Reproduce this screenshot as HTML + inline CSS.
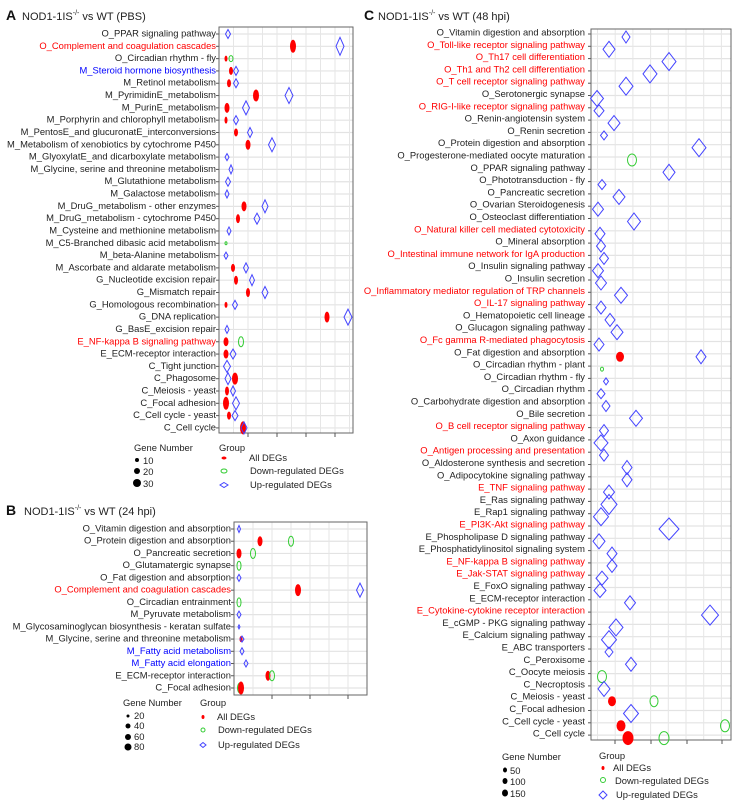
<!DOCTYPE html>
<html><head><meta charset="utf-8"><style>
html,body{margin:0;padding:0;background:#fff;}
svg{display:block;font-family:"Liberation Sans",Arial,sans-serif;}
.l{font-size:9.4px;fill:#222;text-anchor:end;}
.r{fill:#f00;} .b{fill:#00f;}
.t{font-size:11px;fill:#222;}
.g{font-size:9.4px;fill:#222;}
</style></head><body>
<svg id="s" width="738" height="809" viewBox="0 0 738 809" xmlns="http://www.w3.org/2000/svg">
<rect width="738" height="809" fill="#fff"/>
<g id="grid"></g>
<text x="6" y="20" font-size="14" font-weight="bold" fill="#111">A</text>
<text x="22" y="20" class="t">NOD1-1IS<tspan font-size="7" dy="-5">-/-</tspan><tspan dy="5"> vs WT (PBS)</tspan></text>
<text x="6" y="515" font-size="14" font-weight="bold" fill="#111">B</text>
<text x="24" y="515" class="t">NOD1-1IS<tspan font-size="7" dy="-5">-/-</tspan><tspan dy="5"> vs WT (24 hpi)</tspan></text>
<text x="364" y="20" font-size="14" font-weight="bold" fill="#111">C</text>
<text x="378" y="20" class="t">NOD1-1IS<tspan font-size="7" dy="-5">-/-</tspan><tspan dy="5"> vs WT (48 hpi)</tspan></text>

<g transform="translate(216,0)">
<text class="l" y="36.5">O_PPAR signaling pathway</text>
<text class="l r" y="48.8">O_Complement and coagulation cascades</text>
<text class="l" y="61.1">O_Circadian rhythm - fly</text>
<text class="l b" y="73.4">M_Steroid hormone biosynthesis</text>
<text class="l" y="85.7">M_Retinol metabolism</text>
<text class="l" y="98">M_PyrimidinE_metabolism</text>
<text class="l" y="110.4">M_PurinE_metabolism</text>
<text class="l" y="122.7">M_Porphyrin and chlorophyll metabolism</text>
<text class="l" y="135">M_PentosE_and glucuronatE_interconversions</text>
<text class="l" y="147.3">M_Metabolism of xenobiotics by cytochrome P450</text>
<text class="l" y="159.6">M_GlyoxylatE_and dicarboxylate metabolism</text>
<text class="l" y="171.9">M_Glycine, serine and threonine metabolism</text>
<text class="l" y="184.2">M_Glutathione metabolism</text>
<text class="l" y="196.5">M_Galactose metabolism</text>
<text class="l" y="208.8">M_DruG_metabolism - other enzymes</text>
<text class="l" y="221.1">M_DruG_metabolism - cytochrome P450</text>
<text class="l" y="233.5">M_Cysteine and methionine metabolism</text>
<text class="l" y="245.8">M_C5-Branched dibasic acid metabolism</text>
<text class="l" y="258.1">M_beta-Alanine metabolism</text>
<text class="l" y="270.4">M_Ascorbate and aldarate metabolism</text>
<text class="l" y="282.7">G_Nucleotide excision repair</text>
<text class="l" y="295">G_Mismatch repair</text>
<text class="l" y="307.3">G_Homologous recombination</text>
<text class="l" y="319.6">G_DNA replication</text>
<text class="l" y="331.9">G_BasE_excision repair</text>
<text class="l r" y="344.3">E_NF-kappa B signaling pathway</text>
<text class="l" y="356.6">E_ECM-receptor interaction</text>
<text class="l" y="368.9">C_Tight junction</text>
<text class="l" y="381.2">C_Phagosome</text>
<text class="l" y="393.5">C_Meiosis - yeast</text>
<text class="l" y="405.8">C_Focal adhesion</text>
<text class="l" y="418.1">C_Cell cycle - yeast</text>
<text class="l" y="430.4">C_Cell cycle</text>
</g>

<g transform="translate(231,0)">
<text class="l" y="531.5">O_Vitamin digestion and absorption</text>
<text class="l" y="543.7">O_Protein digestion and absorption</text>
<text class="l" y="556">O_Pancreatic secretion</text>
<text class="l" y="568.2">O_Glutamatergic synapse</text>
<text class="l" y="580.4">O_Fat digestion and absorption</text>
<text class="l r" y="592.7">O_Complement and coagulation cascades</text>
<text class="l" y="604.9">O_Circadian entrainment</text>
<text class="l" y="617.1">M_Pyruvate metabolism</text>
<text class="l" y="629.3">M_Glycosaminoglycan biosynthesis - keratan sulfate</text>
<text class="l" y="641.6">M_Glycine, serine and threonine metabolism</text>
<text class="l b" y="653.8">M_Fatty acid metabolism</text>
<text class="l b" y="666">M_Fatty acid elongation</text>
<text class="l" y="678.3">E_ECM-receptor interaction</text>
<text class="l" y="690.5">C_Focal adhesion</text>
</g>

<g transform="translate(585,0)">
<text class="l" y="35.5">O_Vitamin digestion and absorption</text>
<text class="l r" y="47.8">O_Toll-like receptor signaling pathway</text>
<text class="l r" y="60.1">O_Th17 cell differentiation</text>
<text class="l r" y="72.4">O_Th1 and Th2 cell differentiation</text>
<text class="l r" y="84.7">O_T cell receptor signaling pathway</text>
<text class="l" y="97">O_Serotonergic synapse</text>
<text class="l r" y="109.3">O_RIG-I-like receptor signaling pathway</text>
<text class="l" y="121.6">O_Renin-angiotensin system</text>
<text class="l" y="133.9">O_Renin secretion</text>
<text class="l" y="146.2">O_Protein digestion and absorption</text>
<text class="l" y="158.5">O_Progesterone-mediated oocyte maturation</text>
<text class="l" y="170.8">O_PPAR signaling pathway</text>
<text class="l" y="183.1">O_Phototransduction - fly</text>
<text class="l" y="195.4">O_Pancreatic secretion</text>
<text class="l" y="207.7">O_Ovarian Steroidogenesis</text>
<text class="l" y="220">O_Osteoclast differentiation</text>
<text class="l r" y="232.3">O_Natural killer cell mediated cytotoxicity</text>
<text class="l" y="244.6">O_Mineral absorption</text>
<text class="l r" y="256.9">O_Intestinal immune network for IgA production</text>
<text class="l" y="269.2">O_Insulin signaling pathway</text>
<text class="l" y="281.5">O_Insulin secretion</text>
<text class="l r" y="293.8">O_Inflammatory mediator regulation of TRP channels</text>
<text class="l r" y="306.1">O_IL-17 signaling pathway</text>
<text class="l" y="318.4">O_Hematopoietic cell lineage</text>
<text class="l" y="330.7">O_Glucagon signaling pathway</text>
<text class="l r" y="343">O_Fc gamma R-mediated phagocytosis</text>
<text class="l" y="355.3">O_Fat digestion and absorption</text>
<text class="l" y="367.6">O_Circadian rhythm - plant</text>
<text class="l" y="379.9">O_Circadian rhythm - fly</text>
<text class="l" y="392.2">O_Circadian rhythm</text>
<text class="l" y="404.5">O_Carbohydrate digestion and absorption</text>
<text class="l" y="416.8">O_Bile secretion</text>
<text class="l r" y="429.1">O_B cell receptor signaling pathway</text>
<text class="l" y="441.4">O_Axon guidance</text>
<text class="l r" y="453.7">O_Antigen processing and presentation</text>
<text class="l" y="466">O_Aldosterone synthesis and secretion</text>
<text class="l" y="478.3">O_Adipocytokine signaling pathway</text>
<text class="l r" y="490.6">E_TNF signaling pathway</text>
<text class="l" y="502.9">E_Ras signaling pathway</text>
<text class="l" y="515.2">E_Rap1 signaling pathway</text>
<text class="l r" y="527.5">E_PI3K-Akt signaling pathway</text>
<text class="l" y="539.8">E_Phospholipase D signaling pathway</text>
<text class="l" y="552.1">E_Phosphatidylinositol signaling system</text>
<text class="l r" y="564.4">E_NF-kappa B signaling pathway</text>
<text class="l r" y="576.7">E_Jak-STAT signaling pathway</text>
<text class="l" y="589">E_FoxO signaling pathway</text>
<text class="l" y="601.3">E_ECM-receptor interaction</text>
<text class="l r" y="613.6">E_Cytokine-cytokine receptor interaction</text>
<text class="l" y="625.9">E_cGMP - PKG signaling pathway</text>
<text class="l" y="638.2">E_Calcium signaling pathway</text>
<text class="l" y="650.5">E_ABC transporters</text>
<text class="l" y="662.8">C_Peroxisome</text>
<text class="l" y="675.1">C_Oocyte meiosis</text>
<text class="l" y="687.4">C_Necroptosis</text>
<text class="l" y="699.7">C_Meiosis - yeast</text>
<text class="l" y="712">C_Focal adhesion</text>
<text class="l" y="724.3">C_Cell cycle - yeast</text>
<text class="l" y="736.6">C_Cell cycle</text>
</g>

<text class="g" x="134" y="451">Gene Number</text>
<text class="g" x="143" y="464">10</text>
<text class="g" x="143" y="475">20</text>
<text class="g" x="143" y="487">30</text>
<text class="g" x="219" y="451">Group</text>
<text class="g" x="249" y="461">All DEGs</text>
<text class="g" x="250" y="474">Down-regulated DEGs</text>
<text class="g" x="250" y="488">Up-regulated DEGs</text>

<text class="g" x="123" y="706">Gene Number</text>
<text class="g" x="134" y="719">20</text>
<text class="g" x="134" y="729">40</text>
<text class="g" x="134" y="740">60</text>
<text class="g" x="134" y="750">80</text>
<text class="g" x="200" y="706">Group</text>
<text class="g" x="217" y="720">All DEGs</text>
<text class="g" x="218" y="733">Down-regulated DEGs</text>
<text class="g" x="218" y="748">Up-regulated DEGs</text>

<text class="g" x="502" y="760">Gene Number</text>
<text class="g" x="510" y="774">50</text>
<text class="g" x="510" y="785">100</text>
<text class="g" x="510" y="797">150</text>
<text class="g" x="599" y="759">Group</text>
<text class="g" x="613" y="771">All DEGs</text>
<text class="g" x="615" y="784">Down-regulated DEGs</text>
<text class="g" x="616" y="798">Up-regulated DEGs</text>
<g id="m"></g>
</svg>
<script>
var NS="http://www.w3.org/2000/svg";
var G=document.getElementById('grid'),M=document.getElementById('m');
function el(p,tag,a){var e=document.createElementNS(NS,tag);for(var k in a)e.setAttribute(k,a[k]);p.appendChild(e);return e;}
function line(p,x1,y1,x2,y2,c,w){el(p,'line',{x1:x1,y1:y1,x2:x2,y2:y2,stroke:c,'stroke-width':w||1});}
function panel(x0,x1,y0,y1,rowY0,step,n,gx0,gstep,ticks){
  for(var i=0;i<n;i++){var y=rowY0+i*step;line(G,x0,y,x1,y,'#e3e3e3',1.2);line(G,x0-3,y,x0,y,'#555',1);}
  for(var x=gx0;x<x1;x+=gstep){line(G,x,y0,x,y1,'#e6e6e6',1);}
  el(G,'rect',{x:x0,y:y0,width:x1-x0,height:y1-y0,fill:'none',stroke:'#666','stroke-width':1});
  ticks.forEach(function(t){line(G,t,y1,t,y1+4,'#555',1);});
}
panel(219,353,27,433,34,12.31,33,219,14.5,[248,277,306,335]);
panel(234,367,522,695,529,12.23,14,234,19,[272,310,348]);
panel(591,731,29,740,34,12.3,58,597.5,17.7,[615,651,687,722]);
function R(x,y,w,h,c){el(M,'ellipse',{cx:x,cy:y,rx:w/2,ry:h/2,fill:c||'#f00'});}
function K(x,y,w,h){R(x,y,w,h,'#000');}
function Gr(x,y,w,h){el(M,'ellipse',{cx:x,cy:y,rx:w/2,ry:h/2,fill:'none',stroke:'#3c3','stroke-width':1});}
function D(x,y,w,h){el(M,'polygon',{fill:'none',stroke:'#44f','stroke-width':1,points:(x)+','+(y-h/2)+' '+(x+w/2)+','+y+' '+x+','+(y+h/2)+' '+(x-w/2)+','+y});}
var A=[[['D',228,5,9]],[['R',293,6,13],['D',340,8,18]],[['R',226,3,6],['G',231,4,6]],[['R',231,4,8],['D',236,5,9]],[['R',229,4,8],['D',236,5,9]],[['R',256,6,12],['D',289,8,16]],[['R',227,5,10],['D',246,7,14]],[['R',226,3,7],['D',236,5,9]],[['R',236,4,8],['D',250,5,10]],[['R',248,5,10],['D',272,7,14]],[['D',227,4,7]],[['D',231,4,9]],[['D',228,5,9]],[['D',227,4,8]],[['R',244,5,10],['D',265,6,13]],[['R',238,4,9],['D',257,6,11]],[['D',229,4,8]],[['G',226,2,3]],[['D',226,4,7]],[['R',233,4,8],['D',246,5,10]],[['R',236,4,9],['D',252,5,11]],[['R',248,4,9],['D',265,6,12]],[['R',226,3,6],['D',235,5,9]],[['R',327,5,11],['D',348,8,16]],[['D',227,4,8]],[['R',226,5,9],['G',241,5,10]],[['R',226,5,9],['D',233,6,10]],[['D',227,7,12]],[['D',228,6,12],['R',235,6,12]],[['R',227,4,9],['D',233,5,10]],[['R',226,6,13],['D',236,7,13]],[['R',229,4,8],['D',235,6,10]],[['R',243,6,13],['D',244,6,12]]];
var Bp=[[['D',239,3,7]],[['R',260,5,10],['G',291,5,10]],[['R',239,5,10],['G',253,5,10]],[['G',239,4,9]],[['D',239,4,7]],[['R',298,6,12],['D',360,7,14]],[['G',239,4,9]],[['D',239,4,7]],[['D',239,2,4]],[['R',241,3,6],['D',242,4,6]],[['D',242,4,7]],[['D',246,4,7]],[['R',268,5,10],['G',272,5,10]],[['D',241,5,8],['G',240,5,10],['R',241,6,13]]];
var C=[[['D',626,8,12]],[['D',609,12,16]],[['D',669,14,18]],[['D',650,14,18]],[['D',626,14,18]],[['D',597,13,16]],[['D',599,10,12]],[['D',614,12,15]],[['D',604,7,9]],[['D',699,14,18]],[['G',632,9,12]],[['D',669,12,16]],[['D',602,8,10]],[['D',619,12,15]],[['D',598,11,14]],[['D',634,13,17]],[['D',600,10,13]],[['D',601,9,12]],[['D',604,9,12]],[['D',598,11,14]],[['D',601,11,14]],[['D',621,13,16]],[['D',601,10,13]],[['D',610,10,13]],[['D',617,12,15]],[['D',599,10,13]],[['R',620,8,10],['D',701,10,14]],[['G',602,3,4]],[['D',606,5,7]],[['D',601,8,10]],[['D',606,8,11]],[['D',636,13,16]],[['D',604,9,12]],[['D',601,14,16]],[['D',604,9,12]],[['D',627,10,14]],[['D',627,10,14]],[['D',609,11,14]],[['D',609,16,20]],[['D',601,15,18]],[['D',669,20,22]],[['D',599,12,15]],[['D',612,10,13]],[['D',612,10,13]],[['D',602,12,14]],[['D',600,12,14]],[['D',630,11,14]],[['D',710,17,20]],[['D',616,14,17]],[['D',609,15,18]],[['D',609,8,10]],[['D',631,11,14]],[['G',602,9,12]],[['D',604,12,15]],[['R',612,8,10],['G',654,8,11]],[['D',631,15,18]],[['R',621,9,11],['G',725,9,12]],[['R',628,11,14],['G',664,10,13]]];
function draw(data,y0,step,off){data.forEach(function(r,i){var y=y0+i*step+off;r.forEach(function(m){var f={R:R,G:Gr,D:D}[m[0]];f(m[1],y,m[2],m[3]);});});}
draw(A,33,12.31,1);draw(Bp,528,12.23,1);draw(C,32,12.3,5);
K(137,460,4,4);K(137,471,6,6);K(137,483,8,8);
R(224,458,5,3);Gr(224,471,6,4);D(224,485,8,5);
K(128,716,3,3);K(128,726,5,5);K(128,737,6,6);K(128,747,7,7);
R(203,717,3,4);Gr(203,730,4,4);D(203,745,6,5);
K(505,770,4,5);K(505,781,5,6);K(505,793,6,7);
R(603,768,3,4);Gr(603,780,5,5);D(603,795,8,8);
</script>
</body></html>
